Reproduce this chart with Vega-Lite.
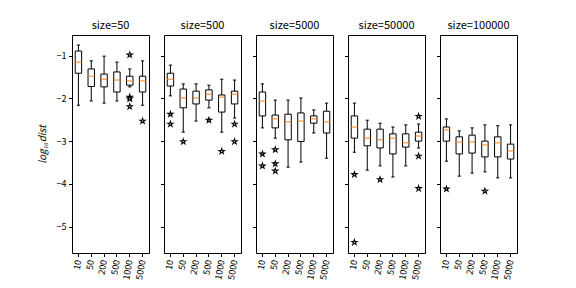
{
  "$schema": "https://vega.github.io/schema/vega-lite/v6.json",
  "padding": {"left": 36, "top": 19, "right": 5, "bottom": 0},
  "background": "white",
  "bounds": "flush",
  "spacing": 15,
  "datasets": {
    "rows": [
      {"kind": "box", "size": 50, "n": "10", "lower": -2.16, "q1": -1.41, "median": -1.15, "q3": -0.89, "upper": -0.75},
      {"kind": "box", "size": 50, "n": "50", "lower": -2.06, "q1": -1.72, "median": -1.48, "q3": -1.31, "upper": -1.12},
      {"kind": "box", "size": 50, "n": "200", "lower": -2.11, "q1": -1.73, "median": -1.55, "q3": -1.43, "upper": -1.01},
      {"kind": "box", "size": 50, "n": "500", "lower": -2.06, "q1": -1.85, "median": -1.57, "q3": -1.38, "upper": -1.15},
      {"kind": "box", "size": 50, "n": "1000", "lower": -1.73, "q1": -1.69, "median": -1.59, "q3": -1.48, "upper": -1.31},
      {"kind": "box", "size": 50, "n": "5000", "lower": -2.16, "q1": -1.85, "median": -1.59, "q3": -1.48, "upper": -1.12},
      {"kind": "flier", "size": 50, "n": "1000", "value": -0.98},
      {"kind": "flier", "size": 50, "n": "1000", "value": -1.97},
      {"kind": "flier", "size": 50, "n": "1000", "value": -2.01},
      {"kind": "flier", "size": 50, "n": "1000", "value": -2.19},
      {"kind": "flier", "size": 50, "n": "5000", "value": -2.53},

      {"kind": "box", "size": 500, "n": "10", "lower": -1.94, "q1": -1.71, "median": -1.55, "q3": -1.41, "upper": -1.22},
      {"kind": "box", "size": 500, "n": "50", "lower": -2.79, "q1": -2.22, "median": -1.99, "q3": -1.78, "upper": -1.66},
      {"kind": "box", "size": 500, "n": "200", "lower": -2.53, "q1": -2.13, "median": -1.99, "q3": -1.83, "upper": -1.66},
      {"kind": "box", "size": 500, "n": "500", "lower": -2.22, "q1": -2.04, "median": -1.90, "q3": -1.80, "upper": -1.69},
      {"kind": "box", "size": 500, "n": "1000", "lower": -2.79, "q1": -2.32, "median": -1.97, "q3": -1.92, "upper": -1.55},
      {"kind": "box", "size": 500, "n": "5000", "lower": -2.46, "q1": -2.13, "median": -1.90, "q3": -1.83, "upper": -1.57},
      {"kind": "flier", "size": 500, "n": "10", "value": -2.37},
      {"kind": "flier", "size": 500, "n": "10", "value": -2.60},
      {"kind": "flier", "size": 500, "n": "50", "value": -3.01},
      {"kind": "flier", "size": 500, "n": "500", "value": -2.51},
      {"kind": "flier", "size": 500, "n": "1000", "value": -3.24},
      {"kind": "flier", "size": 500, "n": "5000", "value": -2.60},
      {"kind": "flier", "size": 500, "n": "5000", "value": -3.01},

      {"kind": "box", "size": 5000, "n": "10", "lower": -2.69, "q1": -2.41, "median": -2.06, "q3": -1.85, "upper": -1.66},
      {"kind": "box", "size": 5000, "n": "50", "lower": -2.93, "q1": -2.69, "median": -2.48, "q3": -2.39, "upper": -2.04},
      {"kind": "box", "size": 5000, "n": "200", "lower": -3.61, "q1": -2.97, "median": -2.55, "q3": -2.37, "upper": -2.04},
      {"kind": "box", "size": 5000, "n": "500", "lower": -3.49, "q1": -3.01, "median": -2.53, "q3": -2.34, "upper": -1.99},
      {"kind": "box", "size": 5000, "n": "1000", "lower": -2.81, "q1": -2.58, "median": -2.48, "q3": -2.41, "upper": -2.27},
      {"kind": "box", "size": 5000, "n": "5000", "lower": -3.40, "q1": -2.81, "median": -2.55, "q3": -2.30, "upper": -2.11},
      {"kind": "flier", "size": 5000, "n": "10", "value": -3.30},
      {"kind": "flier", "size": 5000, "n": "10", "value": -3.58},
      {"kind": "flier", "size": 5000, "n": "50", "value": -3.20},
      {"kind": "flier", "size": 5000, "n": "50", "value": -3.53},
      {"kind": "flier", "size": 5000, "n": "50", "value": -3.70},

      {"kind": "box", "size": 50000, "n": "10", "lower": -3.26, "q1": -2.93, "median": -2.67, "q3": -2.41, "upper": -2.11},
      {"kind": "box", "size": 50000, "n": "50", "lower": -3.68, "q1": -3.11, "median": -2.93, "q3": -2.72, "upper": -2.51},
      {"kind": "box", "size": 50000, "n": "200", "lower": -3.58, "q1": -3.16, "median": -2.97, "q3": -2.72, "upper": -2.58},
      {"kind": "box", "size": 50000, "n": "500", "lower": -3.84, "q1": -3.30, "median": -2.93, "q3": -2.83, "upper": -2.67},
      {"kind": "box", "size": 50000, "n": "1000", "lower": -3.58, "q1": -3.14, "median": -3.04, "q3": -2.83, "upper": -2.62},
      {"kind": "box", "size": 50000, "n": "5000", "lower": -3.16, "q1": -3.00, "median": -2.88, "q3": -2.79, "upper": -2.60},
      {"kind": "flier", "size": 50000, "n": "10", "value": -3.78},
      {"kind": "flier", "size": 50000, "n": "10", "value": -5.37},
      {"kind": "flier", "size": 50000, "n": "200", "value": -3.90},
      {"kind": "flier", "size": 50000, "n": "5000", "value": -2.42},
      {"kind": "flier", "size": 50000, "n": "5000", "value": -3.35},
      {"kind": "flier", "size": 50000, "n": "5000", "value": -4.11},

      {"kind": "box", "size": 100000, "n": "10", "lower": -3.47, "q1": -3.00, "median": -2.74, "q3": -2.67, "upper": -2.48},
      {"kind": "box", "size": 100000, "n": "50", "lower": -3.82, "q1": -3.30, "median": -3.02, "q3": -2.90, "upper": -2.76},
      {"kind": "box", "size": 100000, "n": "200", "lower": -3.75, "q1": -3.28, "median": -3.02, "q3": -2.86, "upper": -2.69},
      {"kind": "box", "size": 100000, "n": "500", "lower": -3.72, "q1": -3.37, "median": -3.09, "q3": -3.00, "upper": -2.62},
      {"kind": "box", "size": 100000, "n": "1000", "lower": -3.86, "q1": -3.37, "median": -3.04, "q3": -2.90, "upper": -2.64},
      {"kind": "box", "size": 100000, "n": "5000", "lower": -3.86, "q1": -3.42, "median": -3.23, "q3": -3.07, "upper": -2.62},
      {"kind": "flier", "size": 100000, "n": "10", "value": -4.12},
      {"kind": "flier", "size": 100000, "n": "500", "value": -4.17}
    ]
  },
  "data": {"name": "rows"},
  "hconcat": [
    {
      "width": 77, "height": 218, "title": "size=50",
      "transform": [{"filter": "datum.size === 50"}],
      "encoding": {"x": {"field": "n", "type": "ordinal", "sort": ["10", "50", "200", "500", "1000", "5000"], "title": null, "scale": {"paddingInner": 0.5, "paddingOuter": 0.25}}},
      "layer": [
        {"transform": [{"filter": "datum.kind === 'box'"}], "mark": {"type": "rule", "color": "black", "strokeWidth": 1}, "encoding": {"y": {"field": "lower", "type": "quantitative", "title": "log₁₀dist", "scale": {"domain": [-5.62, -0.515], "nice": false, "zero": false}, "axis": {"values": [-5, -4, -3, -2, -1], "labels": true}}, "y2": {"field": "upper"}}},
        {"transform": [{"filter": "datum.kind === 'box'"}], "mark": {"type": "tick", "color": "black", "size": 3.2, "thickness": 1, "opacity": 1}, "encoding": {"y": {"field": "lower", "type": "quantitative"}}},
        {"transform": [{"filter": "datum.kind === 'box'"}], "mark": {"type": "tick", "color": "black", "size": 3.2, "thickness": 1, "opacity": 1}, "encoding": {"y": {"field": "upper", "type": "quantitative"}}},
        {"transform": [{"filter": "datum.kind === 'box'"}], "mark": {"type": "bar", "fill": "white", "stroke": "black", "strokeWidth": 1, "opacity": 1}, "encoding": {"y": {"field": "q1", "type": "quantitative"}, "y2": {"field": "q3"}}},
        {"transform": [{"filter": "datum.kind === 'box'"}], "mark": {"type": "tick", "color": "#ff7f0e", "size": 6.4, "thickness": 1, "opacity": 1}, "encoding": {"y": {"field": "median", "type": "quantitative"}}},
        {"transform": [{"filter": "datum.kind === 'flier'"}], "mark": {"type": "point", "shape": "M0,-1L0.2245,-0.309L0.9511,-0.309L0.3633,0.118L0.5878,0.809L0,0.382L-0.5878,0.809L-0.3633,0.118L-0.9511,-0.309L-0.2245,-0.309Z", "filled": true, "fill": "white", "stroke": "black", "strokeWidth": 1.1, "size": 30, "opacity": 1}, "encoding": {"y": {"field": "value", "type": "quantitative"}}}
      ]
    },
    {
      "width": 77, "height": 218, "title": "size=500",
      "transform": [{"filter": "datum.size === 500"}],
      "encoding": {"x": {"field": "n", "type": "ordinal", "sort": ["10", "50", "200", "500", "1000", "5000"], "title": null, "scale": {"paddingInner": 0.5, "paddingOuter": 0.25}}},
      "layer": [
        {"transform": [{"filter": "datum.kind === 'box'"}], "mark": {"type": "rule", "color": "black", "strokeWidth": 1}, "encoding": {"y": {"field": "lower", "type": "quantitative", "title": null, "scale": {"domain": [-5.62, -0.515], "nice": false, "zero": false}, "axis": {"values": [-5, -4, -3, -2, -1], "labels": false}}, "y2": {"field": "upper"}}},
        {"transform": [{"filter": "datum.kind === 'box'"}], "mark": {"type": "tick", "color": "black", "size": 3.2, "thickness": 1, "opacity": 1}, "encoding": {"y": {"field": "lower", "type": "quantitative", "title": null}}},
        {"transform": [{"filter": "datum.kind === 'box'"}], "mark": {"type": "tick", "color": "black", "size": 3.2, "thickness": 1, "opacity": 1}, "encoding": {"y": {"field": "upper", "type": "quantitative", "title": null}}},
        {"transform": [{"filter": "datum.kind === 'box'"}], "mark": {"type": "bar", "fill": "white", "stroke": "black", "strokeWidth": 1, "opacity": 1}, "encoding": {"y": {"field": "q1", "type": "quantitative", "title": null}, "y2": {"field": "q3"}}},
        {"transform": [{"filter": "datum.kind === 'box'"}], "mark": {"type": "tick", "color": "#ff7f0e", "size": 6.4, "thickness": 1, "opacity": 1}, "encoding": {"y": {"field": "median", "type": "quantitative", "title": null}}},
        {"transform": [{"filter": "datum.kind === 'flier'"}], "mark": {"type": "point", "shape": "M0,-1L0.2245,-0.309L0.9511,-0.309L0.3633,0.118L0.5878,0.809L0,0.382L-0.5878,0.809L-0.3633,0.118L-0.9511,-0.309L-0.2245,-0.309Z", "filled": true, "fill": "white", "stroke": "black", "strokeWidth": 1.1, "size": 30, "opacity": 1}, "encoding": {"y": {"field": "value", "type": "quantitative", "title": null}}}
      ]
    },
    {
      "width": 77, "height": 218, "title": "size=5000",
      "transform": [{"filter": "datum.size === 5000"}],
      "encoding": {"x": {"field": "n", "type": "ordinal", "sort": ["10", "50", "200", "500", "1000", "5000"], "title": null, "scale": {"paddingInner": 0.5, "paddingOuter": 0.25}}},
      "layer": [
        {"transform": [{"filter": "datum.kind === 'box'"}], "mark": {"type": "rule", "color": "black", "strokeWidth": 1}, "encoding": {"y": {"field": "lower", "type": "quantitative", "title": null, "scale": {"domain": [-5.62, -0.515], "nice": false, "zero": false}, "axis": {"values": [-5, -4, -3, -2, -1], "labels": false}}, "y2": {"field": "upper"}}},
        {"transform": [{"filter": "datum.kind === 'box'"}], "mark": {"type": "tick", "color": "black", "size": 3.2, "thickness": 1, "opacity": 1}, "encoding": {"y": {"field": "lower", "type": "quantitative", "title": null}}},
        {"transform": [{"filter": "datum.kind === 'box'"}], "mark": {"type": "tick", "color": "black", "size": 3.2, "thickness": 1, "opacity": 1}, "encoding": {"y": {"field": "upper", "type": "quantitative", "title": null}}},
        {"transform": [{"filter": "datum.kind === 'box'"}], "mark": {"type": "bar", "fill": "white", "stroke": "black", "strokeWidth": 1, "opacity": 1}, "encoding": {"y": {"field": "q1", "type": "quantitative", "title": null}, "y2": {"field": "q3"}}},
        {"transform": [{"filter": "datum.kind === 'box'"}], "mark": {"type": "tick", "color": "#ff7f0e", "size": 6.4, "thickness": 1, "opacity": 1}, "encoding": {"y": {"field": "median", "type": "quantitative", "title": null}}},
        {"transform": [{"filter": "datum.kind === 'flier'"}], "mark": {"type": "point", "shape": "M0,-1L0.2245,-0.309L0.9511,-0.309L0.3633,0.118L0.5878,0.809L0,0.382L-0.5878,0.809L-0.3633,0.118L-0.9511,-0.309L-0.2245,-0.309Z", "filled": true, "fill": "white", "stroke": "black", "strokeWidth": 1.1, "size": 30, "opacity": 1}, "encoding": {"y": {"field": "value", "type": "quantitative", "title": null}}}
      ]
    },
    {
      "width": 77, "height": 218, "title": "size=50000",
      "transform": [{"filter": "datum.size === 50000"}],
      "encoding": {"x": {"field": "n", "type": "ordinal", "sort": ["10", "50", "200", "500", "1000", "5000"], "title": null, "scale": {"paddingInner": 0.5, "paddingOuter": 0.25}}},
      "layer": [
        {"transform": [{"filter": "datum.kind === 'box'"}], "mark": {"type": "rule", "color": "black", "strokeWidth": 1}, "encoding": {"y": {"field": "lower", "type": "quantitative", "title": null, "scale": {"domain": [-5.62, -0.515], "nice": false, "zero": false}, "axis": {"values": [-5, -4, -3, -2, -1], "labels": false}}, "y2": {"field": "upper"}}},
        {"transform": [{"filter": "datum.kind === 'box'"}], "mark": {"type": "tick", "color": "black", "size": 3.2, "thickness": 1, "opacity": 1}, "encoding": {"y": {"field": "lower", "type": "quantitative", "title": null}}},
        {"transform": [{"filter": "datum.kind === 'box'"}], "mark": {"type": "tick", "color": "black", "size": 3.2, "thickness": 1, "opacity": 1}, "encoding": {"y": {"field": "upper", "type": "quantitative", "title": null}}},
        {"transform": [{"filter": "datum.kind === 'box'"}], "mark": {"type": "bar", "fill": "white", "stroke": "black", "strokeWidth": 1, "opacity": 1}, "encoding": {"y": {"field": "q1", "type": "quantitative", "title": null}, "y2": {"field": "q3"}}},
        {"transform": [{"filter": "datum.kind === 'box'"}], "mark": {"type": "tick", "color": "#ff7f0e", "size": 6.4, "thickness": 1, "opacity": 1}, "encoding": {"y": {"field": "median", "type": "quantitative", "title": null}}},
        {"transform": [{"filter": "datum.kind === 'flier'"}], "mark": {"type": "point", "shape": "M0,-1L0.2245,-0.309L0.9511,-0.309L0.3633,0.118L0.5878,0.809L0,0.382L-0.5878,0.809L-0.3633,0.118L-0.9511,-0.309L-0.2245,-0.309Z", "filled": true, "fill": "white", "stroke": "black", "strokeWidth": 1.1, "size": 30, "opacity": 1}, "encoding": {"y": {"field": "value", "type": "quantitative", "title": null}}}
      ]
    },
    {
      "width": 77, "height": 218, "title": "size=100000",
      "transform": [{"filter": "datum.size === 100000"}],
      "encoding": {"x": {"field": "n", "type": "ordinal", "sort": ["10", "50", "200", "500", "1000", "5000"], "title": null, "scale": {"paddingInner": 0.5, "paddingOuter": 0.25}}},
      "layer": [
        {"transform": [{"filter": "datum.kind === 'box'"}], "mark": {"type": "rule", "color": "black", "strokeWidth": 1}, "encoding": {"y": {"field": "lower", "type": "quantitative", "title": null, "scale": {"domain": [-5.62, -0.515], "nice": false, "zero": false}, "axis": {"values": [-5, -4, -3, -2, -1], "labels": false}}, "y2": {"field": "upper"}}},
        {"transform": [{"filter": "datum.kind === 'box'"}], "mark": {"type": "tick", "color": "black", "size": 3.2, "thickness": 1, "opacity": 1}, "encoding": {"y": {"field": "lower", "type": "quantitative", "title": null}}},
        {"transform": [{"filter": "datum.kind === 'box'"}], "mark": {"type": "tick", "color": "black", "size": 3.2, "thickness": 1, "opacity": 1}, "encoding": {"y": {"field": "upper", "type": "quantitative", "title": null}}},
        {"transform": [{"filter": "datum.kind === 'box'"}], "mark": {"type": "bar", "fill": "white", "stroke": "black", "strokeWidth": 1, "opacity": 1}, "encoding": {"y": {"field": "q1", "type": "quantitative", "title": null}, "y2": {"field": "q3"}}},
        {"transform": [{"filter": "datum.kind === 'box'"}], "mark": {"type": "tick", "color": "#ff7f0e", "size": 6.4, "thickness": 1, "opacity": 1}, "encoding": {"y": {"field": "median", "type": "quantitative", "title": null}}},
        {"transform": [{"filter": "datum.kind === 'flier'"}], "mark": {"type": "point", "shape": "M0,-1L0.2245,-0.309L0.9511,-0.309L0.3633,0.118L0.5878,0.809L0,0.382L-0.5878,0.809L-0.3633,0.118L-0.9511,-0.309L-0.2245,-0.309Z", "filled": true, "fill": "white", "stroke": "black", "strokeWidth": 1.1, "size": 30, "opacity": 1}, "encoding": {"y": {"field": "value", "type": "quantitative", "title": null}}}
      ]
    }
  ],
  "config": {
    "view": {"stroke": "black", "strokeWidth": 1},
    "font": "Noto Sans CJK JP",
    "title": {"fontSize": 11, "fontWeight": "normal", "color": "black", "offset": 4, "font": "Noto Sans CJK JP"},
    "axis": {"domain": false, "grid": false, "tickColor": "black", "tickSize": 3.5, "tickWidth": 1, "labelColor": "black", "labelFontSize": 9, "labelFont": "Noto Sans CJK JP", "labelPadding": 2.5, "titleColor": "black", "titleFontWeight": "normal", "titleFontSize": 10, "titleFont": "Noto Sans CJK JP", "titleFontStyle": "italic", "titlePadding": 9},
    "axisX": {"labelAngle": -80, "bandPosition": 0.5, "labelPadding": 3}
  }
}
